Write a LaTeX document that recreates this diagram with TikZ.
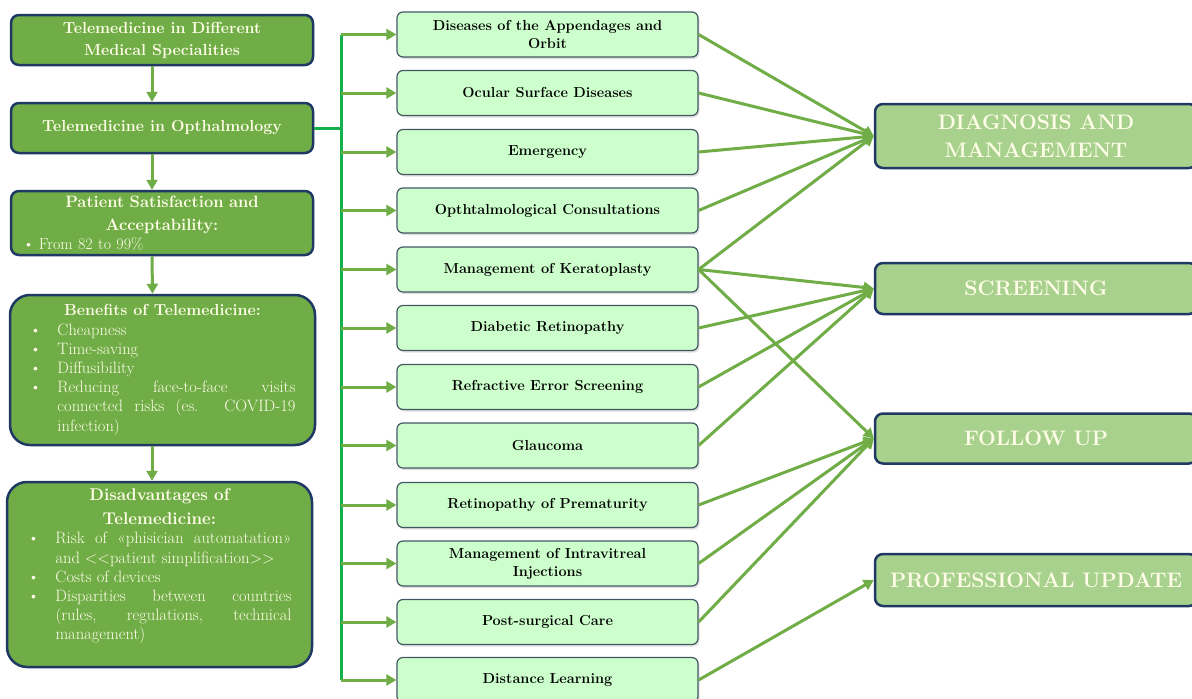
\documentclass[tikz,border=0pt]{standalone}
\definecolor{leafgreen}{RGB}{112, 173, 71}
\definecolor{sagegreen}{RGB}{169, 209, 142}
\definecolor{mint1}{RGB}{204, 255, 204}
\definecolor{navy1}{RGB}{31, 56, 100}
\definecolor{slate1}{RGB}{68, 88, 100}
\definecolor{busgreen}{RGB}{20, 176, 75}
\definecolor{cream1}{RGB}{255, 253, 232}
\usepackage{tikz}
\usetikzlibrary{arrows.meta, positioning, shadows}
\setlength{\parindent}{0pt}
\newcommand{\bitem}[2][28pt]{\par\noindent\hangindent=#1\hangafter=1\makebox[#1][l]{\textbullet}#2\par}
\tikzset{
  sidebox/.style={rounded corners=8pt, draw=navy1, line width=2.5pt, fill=leafgreen, text=cream1, inner sep=3pt, font=\bfseries\fontsize{16}{22}\selectfont},
  listbox/.style={sidebox, rounded corners=20pt, align=justify, font=\fontsize{16.5}{19.2}\selectfont},
  topicnode/.style={rounded corners=6pt, draw=slate1, line width=1.2pt, fill=mint1, minimum width=301pt, minimum height=45pt, align=center, font=\bfseries\fontsize{14.5}{18}\selectfont, drop shadow={shadow xshift=1.5pt, shadow yshift=-2pt, opacity=0.25}},
  outnode/.style={rounded corners=8pt, draw=navy1, line width=2.5pt, fill=sagegreen, text=cream1, minimum width=322pt, align=center, font=\bfseries\fontsize{21}{28}\selectfont},
  feedarrow/.style={-{Triangle[length=10pt, width=11pt]}, line width=3pt, leafgreen},
  busline/.style={line width=3pt, busgreen},
}
\begin{document}
\begin{tikzpicture}[x=1pt, y=-1pt]
  \clip (0,0) rectangle (1192,699);
  \fill[white] (0,0) rectangle (1192,699);

  % left column
  \node[sidebox, minimum width=302pt, minimum height=50pt, align=center] (spec) at (162,40) {Telemedicine in Different\\Medical Specialities};
  \node[sidebox, minimum width=302pt, minimum height=50pt] (oph) at (162,128) {Telemedicine in Opthalmology};
  \node[sidebox, minimum width=302pt, minimum height=64pt, text width=278pt, font=\fontsize{16}{19}\selectfont] (sat) at (162,223)
    {{\centering\bfseries\fontsize{16.5}{23}\selectfont Patient Satisfaction and\par Acceptability:\par}\bitem[16pt]{From 82 to 99\%}};
  \node[listbox, minimum width=305pt, minimum height=150pt, text width=266pt] (ben) at (162.5,370)
    {{\centering\bfseries\fontsize{16}{20}\selectfont Benefits of Telemedicine:\par}
     \bitem{Cheapness}
     \bitem{Time-saving}
     \bitem{Diffusibility}
     \bitem{Reducing face-to-face visits\linebreak connected risks (es. COVID-19\linebreak infection)}};
  \node[listbox, minimum width=305pt, minimum height=185pt, text width=264pt] (dis) at (159.5,574.5)
    {{\centering\bfseries\fontsize{17}{24}\selectfont Disadvantages of\par Telemedicine:\par}
     \bitem{Risk of «phisician automatation»\linebreak and <\kern0pt<patient simplification>\kern0pt>}
     \bitem{Costs of devices}
     \bitem{Disparities between countries\linebreak (rules, regulations, technical\linebreak management)}
     \vspace{16pt}};

  % middle column
  \node[topicnode] (orbit) at (547.5,34.5) {Diseases of the Appendages and\\Orbit};
  \node[topicnode] (ocular) at (547.5,93) {Ocular Surface Diseases};
  \node[topicnode] (emerg) at (547.5,152) {Emergency};
  \node[topicnode] (consult) at (547.5,210.5) {Opthtalmological Consultations};
  \node[topicnode] (kerato) at (547.5,269.5) {Management of Keratoplasty};
  \node[topicnode] (diabet) at (547.5,328) {Diabetic Retinopathy};
  \node[topicnode] (refract) at (547.5,387) {Refractive Error Screening};
  \node[topicnode] (glauc) at (547.5,445.5) {Glaucoma};
  \node[topicnode] (rop) at (547.5,505) {Retinopathy of Prematurity};
  \node[topicnode] (inject) at (547.5,563.5) {Management of Intravitreal\\Injections};
  \node[topicnode] (postop) at (547.5,622) {Post-surgical Care};
  \node[topicnode] (distance) at (547.5,680) {Distance Learning};

  % right column
  \node[outnode, minimum height=64pt] (diag) at (1036,136) {DIAGNOSIS AND\\MANAGEMENT};
  \node[outnode, minimum height=51pt] (screen) at (1036,288.5) {SCREENING};
  \node[outnode, minimum height=50pt] (follow) at (1036,438.5) {FOLLOW UP};
  \node[outnode, minimum height=52pt] (update) at (1036,580) {PROFESSIONAL UPDATE};

  % left arrows
  \draw[feedarrow] ([xshift=-10pt]spec.south) -- ([xshift=-10pt]oph.north);
  \draw[feedarrow] ([xshift=-10pt]oph.south) -- ([xshift=-10pt]sat.north);
  \draw[feedarrow] ([xshift=-10pt]sat.south) -- ([xshift=-10pt]ben.north);
  \draw[feedarrow] ([xshift=-10.5pt]ben.south) -- ([xshift=-7.5pt]dis.north);

  % bus
  \coordinate (bus) at (341,0);
  \draw[busline] (oph.east) -- (oph.east -| bus);
  \draw[busline] (orbit.west -| bus) -- (distance.west -| bus);
  \draw[feedarrow] (orbit.west -| bus) -- (orbit.west);
  \draw[feedarrow] (ocular.west -| bus) -- (ocular.west);
  \draw[feedarrow] (emerg.west -| bus) -- (emerg.west);
  \draw[feedarrow] (consult.west -| bus) -- (consult.west);
  \draw[feedarrow] (kerato.west -| bus) -- (kerato.west);
  \draw[feedarrow] (diabet.west -| bus) -- (diabet.west);
  \draw[feedarrow] (refract.west -| bus) -- (refract.west);
  \draw[feedarrow] (glauc.west -| bus) -- (glauc.west);
  \draw[feedarrow] (rop.west -| bus) -- (rop.west);
  \draw[feedarrow] (inject.west -| bus) -- (inject.west);
  \draw[feedarrow] (postop.west -| bus) -- (postop.west);
  \draw[feedarrow] (distance.west -| bus) -- (distance.west);

  % outcome arrows
  \draw[feedarrow] (orbit.east) -- (diag.west);
  \draw[feedarrow] (ocular.east) -- (diag.west);
  \draw[feedarrow] (emerg.east) -- (diag.west);
  \draw[feedarrow] (consult.east) -- (diag.west);
  \draw[feedarrow] (kerato.east) -- (diag.west);
  \draw[feedarrow] (kerato.east) -- (screen.west);
  \draw[feedarrow] (diabet.east) -- (screen.west);
  \draw[feedarrow] (refract.east) -- (screen.west);
  \draw[feedarrow] (glauc.east) -- (screen.west);
  \draw[feedarrow] (kerato.east) -- (follow.west);
  \draw[feedarrow] (rop.east) -- (follow.west);
  \draw[feedarrow] (inject.east) -- (follow.west);
  \draw[feedarrow] (postop.east) -- (follow.west);
  \draw[feedarrow] (distance.east) -- (update.west);
\end{tikzpicture}
\end{document}
